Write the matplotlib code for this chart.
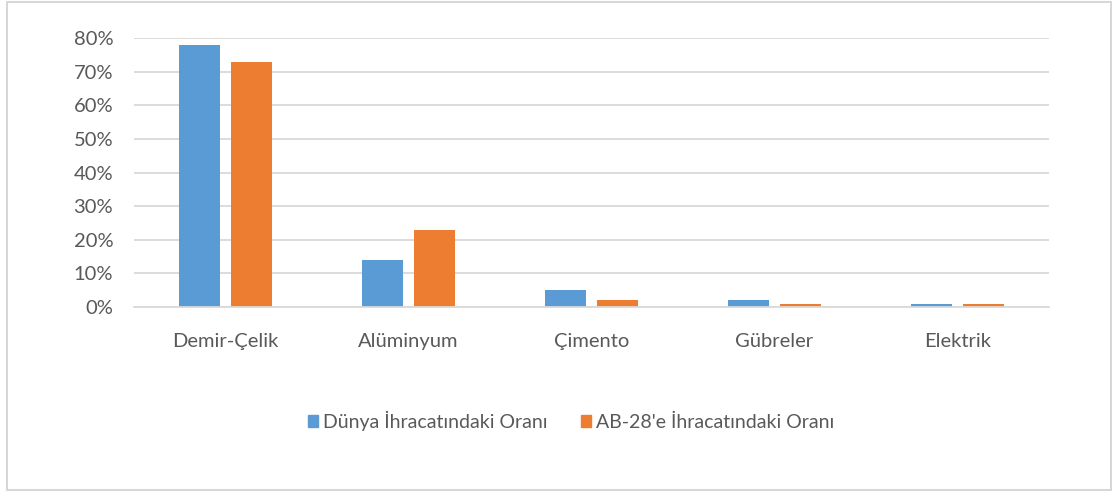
import matplotlib
matplotlib.use("Agg")
import matplotlib.pyplot as plt
from matplotlib.patches import Rectangle, Patch
import numpy as np

categories = ["Demir-Çelik", "Alüminyum", "Çimento", "Gübreler", "Elektrik"]
dunya = [0.78, 0.14, 0.05, 0.02, 0.01]
ab28 = [0.73, 0.23, 0.02, 0.01, 0.01]
series_names = ["Dünya İhracatındaki Oranı", "AB-28'e İhracatındaki Oranı"]
yticks = [0, 0.1, 0.2, 0.3, 0.4, 0.5, 0.6, 0.7, 0.8]

blue = "#5b9bd5"
orange = "#ed7d31"
txt = "#595959"
grid = "#d9d9d9"

plt.rcParams['font.family'] = ['Lato', 'DejaVu Sans']

fig = plt.figure(figsize=(11.14, 4.95), dpi=100)
fig.patches.append(Rectangle((7/1114, 5/495), 1104/1114, 488/495, transform=fig.transFigure,
                             fill=False, edgecolor="#d0d0d0", linewidth=1.2))
ax = fig.add_axes([134/1114, 188/495, 915/1114, 269/495])

x = np.arange(len(categories))
w = 0.224
ax.bar(x - 0.142, dunya, w, color=blue, zorder=3)
ax.bar(x + 0.142, ab28, w, color=orange, zorder=3)

ax.set_xlim(-0.5, len(categories) - 0.5)
ax.set_ylim(0, 0.8)
ax.set_yticks(yticks)
ax.set_yticklabels([f"{int(round(v*100))}%" for v in yticks])
ax.set_xticks(x)
ax.set_xticklabels(categories)
ax.yaxis.grid(True, color=grid, linewidth=1.3, zorder=0)
ax.set_axisbelow(True)
for s in ["top", "right", "left"]:
    ax.spines[s].set_visible(False)
ax.spines["bottom"].set_color(grid)
ax.spines["bottom"].set_linewidth(1.3)
ax.spines["bottom"].set_zorder(4)
ax.tick_params(axis="both", length=0, colors=txt, labelsize=14.5)
ax.tick_params(axis="x", pad=19)
ax.tick_params(axis="y", pad=15)

handles = [Patch(color=blue), Patch(color=orange)]
fig.legend(handles, series_names, loc="center", bbox_to_anchor=(571/1114, 1 - 421/495),
           ncol=2, frameon=False, fontsize=14, labelcolor=txt,
           handlelength=0.55, handleheight=0.55, handletextpad=0.25, columnspacing=1.7)

fig.savefig("out.png", dpi=100)
